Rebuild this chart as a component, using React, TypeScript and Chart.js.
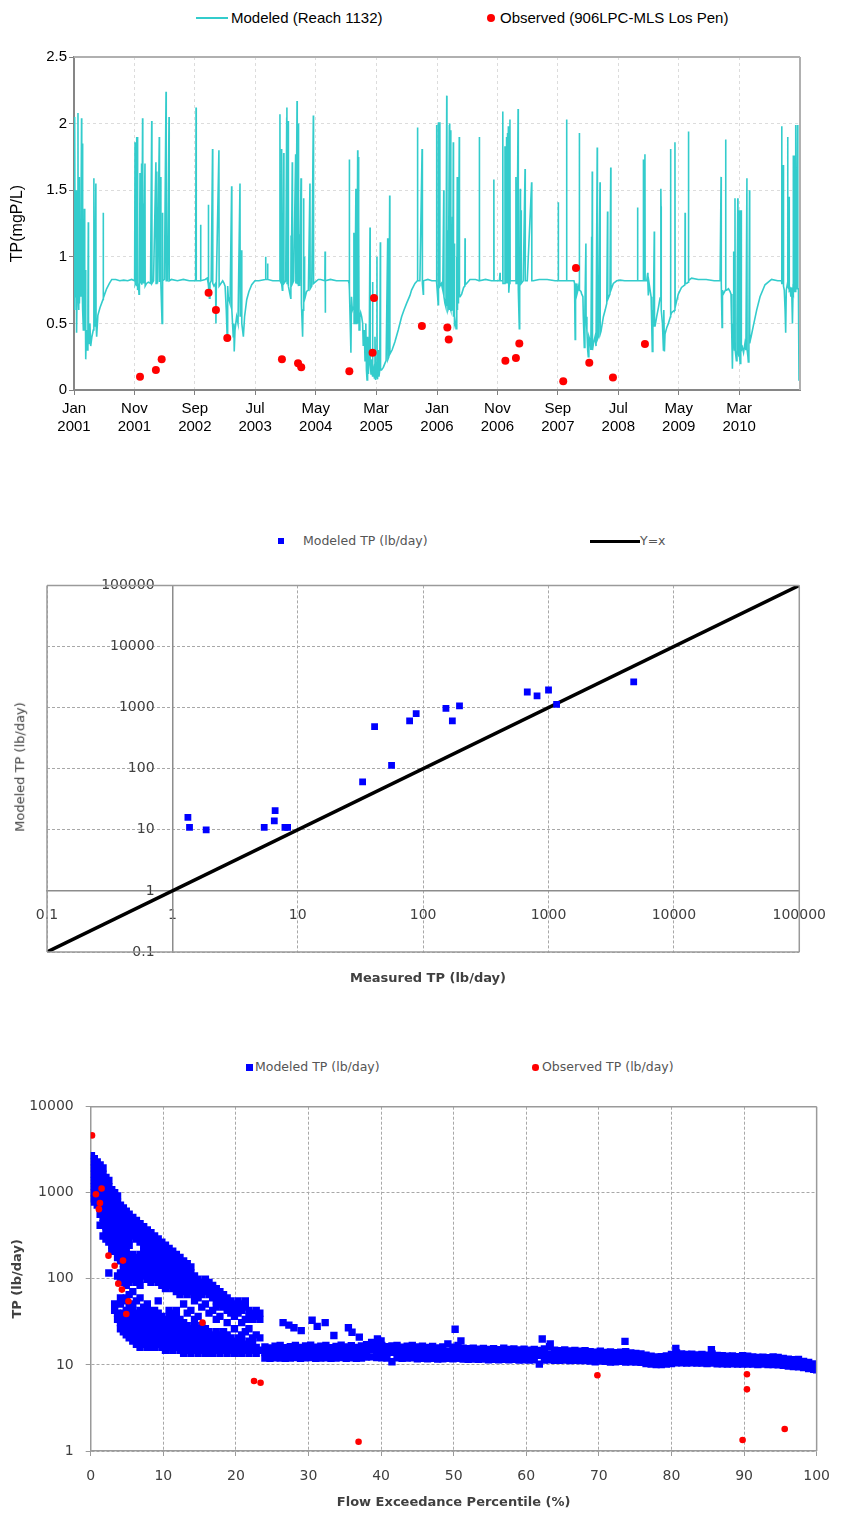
import React, { useEffect, useRef } from 'react';
import { Chart, registerables } from 'chart.js';

Chart.register(...registerables);

const FONT_ARIAL = "'Liberation Sans', Arial, sans-serif";
const FONT_VERDANA = "'DejaVu Sans', Verdana, sans-serif";

// ---------------- Chart 1: TP concentration time series ----------------
const tickDays = [0, 304, 608, 911, 1216, 1520, 1826, 2130, 2434, 2738, 3042, 3346];
const tickMonths = ['Jan', 'Nov', 'Sep', 'Jul', 'May', 'Mar', 'Jan', 'Nov', 'Sep', 'Jul', 'May', 'Mar'];
const tickYears = ['2001', '2001', '2002', '2003', '2004', '2005', '2006', '2006', '2007', '2008', '2009', '2010'];
const concTicks = [0, 0.5, 1, 1.5, 2, 2.5];
const concTickLabels = ['0', '0.5', '1', '1.5', '2', '2.5'];

// [day since 2001-01-01, TP mg/L]
const modeledSeries: number[][] = [
  [0,0.78],[2,1.2],[3,0.6],[5,2.05],[6,0.7],[9,0.9],[11,1.5],[13,0.43],[16,0.8],[20,2.08],[21,0.75],[24,0.6],[26,1.6],[27,0.65],[31,0.9],[33,0.7],[38,2.04],[39,0.7],[41,0.8],[43,1.85],[44,0.6],[47,0.45],[50,0.9],[52,1.36],[54,0.5],[56,0.9],[59,0.23],[62,0.45],[66,0.3],[70,0.6],[72,1.26],[73,0.4],[77,0.35],[80,0.5],[84,0.33],[90,0.4],[97,0.45],[100,1.59],[101,0.48],[104,0.5],[110,1.55],[111,0.5],[114,0.4],[120,0.56],[131,0.62],[146,0.68],[147,1.33],[148,0.69],[164,0.76],[178,0.8],[190,0.83],[210,0.83],[230,0.82],[250,0.825],[270,0.82],[290,0.83],[305,0.82],
  [307,1.86],[308,0.8],[312,0.82],[315,1.9],[316,0.78],[319,1.9],[320,0.75],[324,0.8],[327,0.72],[329,0.82],[332,1.63],[333,0.8],[336,0.82],[340,1.7],[341,0.79],[345,2.04],[346,0.8],[349,1.4],[350,0.8],[357,1.7],[358,0.78],[365,0.8],[374,0.81],[385,0.8],[391,2.02],[392,0.8],[400,0.82],[412,1.71],[413,0.8],[416,1.64],[417,0.8],[419,1.0],[420,0.8],[429,1.9],[430,0.81],[436,1.6],[437,0.8],[443,0.5],[444,0.82],[446,1.33],[447,0.82],[455,0.83],[463,2.24],[464,0.82],[470,0.82],[478,2.05],[479,0.82],[490,0.83],[520,0.82],[550,0.83],[580,0.82],[605,0.82],
  [612,0.82],[614,2.12],[615,0.82],[636,0.82],[637,1.24],[638,0.82],[660,0.83],[670,0.84],[675,0.8],[676,1.39],[677,0.78],[681,0.69],[684,0.8],[690,0.82],[697,1.81],[698,0.8],[704,0.78],[712,0.8],[714,0.5],[716,0.8],[729,1.8],[730,0.78],[734,0.78],[748,0.82],[755,0.8],[760,0.78],[766,0.6],[771,0.37],[773,0.78],[776,0.7],[785,0.65],[793,1.53],[794,0.6],[801,0.4],[804,0.5],[806,0.29],[810,0.45],[818,0.55],[825,0.5],[835,1.55],[836,0.55],[843,1.05],[844,0.5],[852,0.4],[858,0.55],[869,0.68],[880,0.74],[894,0.79],[910,0.82],[930,0.82],[962,0.83],[964,1.0],[965,0.83],[973,0.83],[974,0.95],[975,0.83],[1000,0.82],[1030,0.82],
  [1035,0.82],[1036,2.07],[1037,0.82],[1043,0.8],[1044,1.81],[1045,0.8],[1048,0.75],[1050,0.8],[1055,1.78],[1056,0.8],[1065,0.82],[1070,2.04],[1071,2.12],[1072,0.8],[1077,0.8],[1078,2.02],[1079,0.78],[1090,0.69],[1091,0.8],[1092,1.16],[1093,0.8],[1098,1.71],[1099,0.8],[1105,0.82],[1115,1.77],[1116,0.8],[1122,2.17],[1123,0.8],[1128,0.8],[1129,2.0],[1130,0.78],[1134,1.17],[1135,0.78],[1142,1.59],[1143,0.75],[1145,0.65],[1150,0.4],[1152,0.6],[1155,1.44],[1156,0.65],[1159,1.0],[1160,0.68],[1162,0.69],[1170,0.74],[1179,0.75],[1187,1.55],[1188,0.76],[1196,0.78],[1204,2.06],[1205,0.8],[1213,0.81],[1229,0.83],[1240,0.83],[1262,0.82],[1263,1.04],[1264,0.58],[1265,0.82],[1290,0.83],[1320,0.82],[1350,0.82],[1380,0.82],
  [1384,0.8],[1385,1.73],[1386,0.75],[1393,0.28],[1396,0.7],[1400,0.6],[1404,0.62],[1408,1.18],[1409,0.5],[1413,0.55],[1418,1.51],[1419,0.5],[1423,0.55],[1427,1.8],[1428,0.5],[1430,1.75],[1431,0.5],[1433,1.27],[1434,0.45],[1438,0.55],[1442,0.58],[1447,0.55],[1452,0.5],[1455,0.33],[1460,0.45],[1464,0.22],[1468,0.5],[1471,0.15],[1474,0.075],[1477,0.4],[1481,0.12],[1485,0.3],[1489,1.22],[1490,0.2],[1494,0.12],[1497,0.23],[1500,0.12],[1502,0.81],[1503,0.1],[1508,0.15],[1511,0.09],[1514,0.4],[1517,0.075],[1521,0.2],[1524,1.0],[1525,0.1],[1527,0.08],[1531,0.3],[1534,0.1],[1538,0.15],[1541,1.11],[1542,0.15],[1547,0.15],[1556,0.17],[1564,0.2],[1570,0.22],[1578,1.14],[1579,0.23],[1584,0.25],[1588,1.46],[1589,0.27],[1600,0.3],[1614,0.36],[1631,0.45],[1648,0.55],[1660,0.6],[1673,0.65],[1690,0.71],[1698,0.75],[1715,0.8],[1727,0.82],[1728,1.97],[1729,0.82],[1740,0.82],[1751,1.81],[1752,1.79],[1753,0.8],[1757,0.72],[1758,0.82],[1780,0.83],[1800,0.82],[1815,0.82],
  [1823,0.82],[1824,1.99],[1825,0.8],[1832,0.64],[1833,2.01],[1834,0.8],[1838,0.8],[1840,2.01],[1841,0.78],[1848,0.8],[1855,0.75],[1860,1.5],[1861,0.7],[1866,0.65],[1871,0.62],[1875,2.21],[1876,0.63],[1880,1.2],[1881,0.6],[1883,0.61],[1888,1.99],[1889,0.6],[1891,2.0],[1892,0.62],[1895,1.95],[1896,0.6],[1900,0.6],[1904,1.3],[1905,0.6],[1908,1.86],[1909,0.55],[1913,1.1],[1914,0.5],[1917,0.52],[1922,0.46],[1925,1.0],[1926,0.55],[1928,1.6],[1929,0.6],[1933,1.4],[1934,0.65],[1938,1.9],[1939,0.7],[1942,0.7],[1950,0.72],[1960,0.77],[1966,0.78],[1967,1.14],[1968,0.79],[1975,0.8],[1992,0.83],[2020,0.83],[2038,0.82],[2039,1.9],[2040,0.82],[2070,0.83],[2100,0.82],[2111,0.82],[2112,1.58],[2113,0.82],[2140,0.82],[2143,0.88],[2144,0.82],[2150,0.82],
  [2155,0.82],[2157,2.09],[2158,0.8],[2166,0.8],[2168,1.83],[2169,0.8],[2172,0.8],[2174,1.7],[2175,0.8],[2176,1.9],[2177,0.8],[2181,1.93],[2182,0.8],[2185,1.98],[2186,0.75],[2188,0.73],[2190,0.8],[2193,2.03],[2194,0.82],[2202,0.82],[2220,0.82],[2223,1.6],[2224,0.8],[2227,1.5],[2228,0.8],[2234,2.11],[2235,0.75],[2240,0.46],[2242,0.8],[2245,1.51],[2246,0.8],[2249,1.35],[2250,0.8],[2260,0.82],[2269,1.66],[2270,0.82],[2280,0.82],[2302,1.56],[2303,0.82],[2310,0.82],[2340,0.83],[2380,0.83],[2420,0.82],[2435,0.82],[2436,1.41],[2437,0.82],[2460,0.82],[2477,0.82],[2478,2.03],[2479,0.82],[2500,0.82],[2515,0.82],
  [2518,0.8],[2520,0.5],[2521,0.38],[2523,0.75],[2527,0.8],[2530,0.72],[2535,0.75],[2541,0.8],[2542,1.93],[2543,0.75],[2550,0.74],[2554,0.72],[2560,0.7],[2562,0.55],[2567,0.32],[2570,0.6],[2575,1.1],[2576,0.55],[2580,0.45],[2584,0.3],[2587,0.25],[2590,0.4],[2596,0.37],[2600,0.3],[2604,1.15],[2605,0.3],[2607,1.64],[2608,0.3],[2613,0.35],[2621,0.4],[2626,0.33],[2632,1.82],[2633,0.38],[2638,0.4],[2646,1.56],[2647,0.42],[2651,0.44],[2663,0.55],[2672,0.6],[2680,0.65],[2684,1.34],[2685,0.68],[2696,0.72],[2700,1.67],[2701,0.75],[2713,0.8],[2730,0.82],[2747,0.825],[2770,0.82],[2800,0.82],[2820,0.82],
  [2834,0.82],[2835,1.37],[2836,0.82],[2863,0.82],[2864,1.73],[2865,0.82],[2871,0.82],[2872,1.77],[2873,0.82],[2881,0.82],[2886,0.88],[2887,0.8],[2889,0.71],[2893,0.8],[2897,0.8],[2903,0.7],[2906,0.5],[2909,0.29],[2912,0.6],[2914,0.5],[2919,1.19],[2920,0.48],[2923,0.48],[2931,0.55],[2940,0.62],[2948,0.69],[2952,1.51],[2953,1.38],[2954,0.6],[2960,0.5],[2965,0.3],[2967,0.6],[2970,0.29],[2973,0.42],[2982,0.47],[2990,0.5],[3000,0.55],[3001,1.81],[3002,0.56],[3006,0.58],[3022,0.6],[3023,1.86],[3024,0.62],[3030,0.66],[3040,0.72],[3056,0.77],[3073,0.79],[3074,1.33],[3075,0.8],[3082,0.8],[3090,0.81],[3091,1.94],[3092,0.82],[3098,0.83],[3107,0.84],[3140,0.83],[3180,0.83],[3220,0.82],[3250,0.82],
  [3254,0.82],[3255,1.6],[3256,0.8],[3260,0.47],[3262,0.75],[3266,0.72],[3277,0.75],[3278,1.88],[3279,0.75],[3283,0.75],[3292,0.76],[3300,0.74],[3305,0.72],[3309,0.4],[3312,0.16],[3315,0.5],[3318,1.04],[3319,0.4],[3322,0.3],[3325,1.44],[3326,0.3],[3332,0.22],[3335,0.5],[3339,1.44],[3340,0.3],[3345,0.25],[3347,1.35],[3348,0.25],[3351,0.2],[3354,0.45],[3356,1.35],[3357,0.3],[3362,0.32],[3368,0.28],[3375,0.35],[3380,0.3],[3385,1.59],[3386,0.3],[3390,0.25],[3392,0.21],[3395,0.35],[3398,1.5],[3399,0.35],[3403,0.38],[3406,0.4],[3417,0.48],[3434,0.6],[3451,0.7],[3476,0.79],[3509,0.83],[3540,0.82],[3555,0.82],
  [3559,0.82],[3560,1.98],[3561,0.8],[3566,0.8],[3568,1.69],[3569,0.78],[3573,0.75],[3577,0.6],[3580,0.43],[3583,0.75],[3589,0.8],[3590,1.9],[3591,0.78],[3596,0.76],[3597,1.45],[3598,0.75],[3602,0.76],[3606,0.7],[3610,0.77],[3614,0.5],[3617,0.75],[3618,1.76],[3619,0.74],[3622,1.76],[3623,0.74],[3626,0.74],[3629,0.74],[3630,1.99],[3631,0.76],[3635,0.76],[3640,1.99],[3641,0.76],[3644,0.76],[3647,0.076],[3649,0.3],[3652,0.1],
];

const observedDays = [332, 412, 441, 677, 714, 771, 1046, 1127, 1143, 1385, 1502, 1509, 1750, 1878, 1885, 2170, 2223, 2240, 2461, 2525, 2592, 2711, 2872];
const observedConc = [0.10, 0.15, 0.23, 0.73, 0.60, 0.39, 0.23, 0.20, 0.17, 0.14, 0.28, 0.69, 0.48, 0.47, 0.38, 0.22, 0.24, 0.35, 0.065, 0.915, 0.205, 0.093, 0.345];

// ---------------- Chart 2: modeled vs measured load ----------------
const logDecades = [0.1, 1, 10, 100, 1000, 10000, 100000];
const logDecadeLabels = ['0.1', '1', '10', '100', '1000', '10000', '100000'];
const measuredLoad = [1.33, 1.37, 1.86, 5.4, 6.5, 6.6, 7.9, 8.3, 32.9, 41, 56, 78, 88, 152, 171, 195, 677, 810, 1000, 1160, 4780];
const modeledLoad = [16, 11, 10, 11, 14, 20.6, 11, 11, 61, 490, 113, 605, 800, 975, 605, 1070, 1800, 1550, 1940, 1130, 2630];
const identityEnds = [0.1, 100000];

// ---------------- Chart 3: load duration ----------------
const durationDecades = [1, 10, 100, 1000, 10000];
const durationDecadeLabels = ['1', '10', '100', '1000', '10000'];
// [exceedance %, TP lb/day values...]
const modeledDenseColumns: number[][] = [
  [0.1, 2700, 2290, 1940, 1640, 1390, 1180, 1000, 850],
  [0.5, 2490, 2110, 1790, 1510, 1280, 1090, 920, 780],
  [0.9, 2290, 1940, 1640, 1390, 1180, 1000, 850, 720],
  [1.3, 2110, 1790, 1510, 1280, 1090, 920, 780, 665, 563, 420],
  [1.7, 1940, 1640, 1390, 1180, 1000, 850, 720, 610, 517, 438, 315],
  [2.1, 1510, 1280, 1090, 920, 780, 665, 563, 477, 404, 343, 290],
  [2.5, 1390, 1180, 1000, 850, 720, 610, 517, 438, 371, 315, 267, 117],
  [2.9, 1090, 920, 780, 665, 563, 477, 404, 343, 290, 246, 209],
  [3.3, 1000, 850, 720, 610, 517, 438, 371, 315, 267, 226, 51, 43],
  [3.7, 920, 780, 665, 563, 477, 404, 343, 290, 246, 209, 177, 108, 40, 33.8],
  [4.1, 720, 610, 517, 438, 371, 315, 267, 226, 192, 162, 117, 99, 60, 51, 36.7, 31, 26.3],
  [4.5, 665, 563, 477, 404, 343, 290, 246, 209, 177, 150, 127, 108, 91, 55.5, 40, 33.8, 28.6, 24.3],
  [4.9, 610, 517, 438, 371, 315, 267, 226, 192, 162, 138, 117, 99, 84, 60, 43, 36.7, 31, 26.3, 22.3],
  [5.3, 563, 477, 404, 343, 290, 246, 177, 150, 127, 108, 91, 65.5, 47, 40, 33.8, 28.6, 24.3, 20.6],
  [5.8, 517, 438, 371, 315, 192, 162, 138, 117, 99, 71, 51, 43, 36.7, 31, 26.3, 22.3, 18.9],
  [6.3, 477, 404, 343, 290, 177, 150, 127, 108, 91, 55.5, 40, 33.8, 28.6, 24.3, 20.6, 17.4],
  [6.8, 438, 371, 315, 267, 192, 162, 138, 117, 99, 84, 60, 43, 36.7, 31, 26.3, 22.3, 18.9, 16],
  [7.3, 404, 343, 290, 246, 209, 177, 150, 127, 108, 47, 40, 33.8, 28.6, 24.3, 20.6, 17.4],
  [7.8, 371, 315, 267, 226, 192, 162, 138, 117, 99, 51, 43, 36.7, 31, 26.3, 22.3, 18.9, 16],
  [8.3, 343, 290, 246, 209, 177, 150, 127, 108, 91, 40, 33.8, 28.6, 24.3, 20.6, 17.4],
  [8.8, 315, 267, 226, 192, 162, 138, 117, 99, 43, 36.7, 31, 26.3, 22.3, 18.9, 16],
  [9.3, 290, 246, 209, 177, 150, 127, 108, 91, 55.5, 40, 33.8, 28.6, 24.3, 20.6, 17.4],
  [9.8, 267, 226, 192, 162, 138, 117, 99, 84, 36.7, 31, 26.3, 22.3, 18.9, 16],
  [10.3, 246, 209, 177, 150, 127, 108, 91, 77, 33.8, 28.6, 24.3, 20.6, 17.4, 14.8],
  [10.8, 226, 192, 162, 138, 117, 99, 84, 43, 36.7, 31, 26.3, 22.3, 18.9, 16],
  [11.3, 209, 177, 150, 127, 108, 91, 77, 40, 33.8, 28.6, 24.3, 20.6, 17.4, 14.8],
  [11.8, 192, 162, 138, 117, 99, 84, 71, 43, 36.7, 31, 26.3, 22.3, 18.9, 16],
  [12.3, 177, 150, 127, 108, 91, 77, 65.5, 33.8, 28.6, 24.3, 20.6, 17.4, 14.8],
  [12.8, 162, 138, 117, 99, 84, 71, 51, 31, 26.3, 22.3, 18.9, 16, 13.6],
  [13.3, 150, 127, 108, 91, 77, 65.5, 40, 28.6, 24.3, 20.6, 17.4, 14.8],
  [13.8, 138, 117, 99, 84, 71, 43, 26.3, 22.3, 18.9, 16, 13.6],
  [14.3, 108, 91, 77, 65.5, 55.5, 33.8, 28.6, 24.3, 20.6, 17.4, 14.8],
  [14.8, 99, 84, 71, 60, 36.7, 26.3, 22.3, 18.9, 16, 13.6],
  [15.3, 91, 77, 65.5, 47, 28.6, 24.3, 20.6, 17.4, 14.8],
  [15.8, 99, 84, 71, 51, 26.3, 22.3, 18.9, 16, 13.6],
  [16.3, 91, 77, 65.5, 40, 24.3, 20.6, 17.4, 14.8],
  [16.8, 84, 71, 60, 43, 22.3, 18.9, 16, 13.6],
  [17.3, 77, 65.5, 55.5, 47, 33.8, 24.3, 20.6, 17.4, 14.8],
  [17.8, 71, 60, 51, 36.7, 22.3, 18.9, 16, 13.6],
  [18.3, 65.5, 55.5, 47, 24.3, 20.6, 17.4, 14.8],
  [18.8, 60, 51, 43, 31, 22.3, 18.9, 16, 13.6],
  [19.3, 55.5, 47, 40, 20.6, 17.4, 14.8],
  [19.8, 51, 43, 36.7, 26.3, 18.9, 16, 13.6],
  [20.3, 55.5, 47, 40, 20.6, 17.4, 14.8],
  [20.8, 51, 43, 31, 22.3, 18.9, 16, 13.6],
  [21.3, 55.5, 47, 33.8, 24.3, 17.4, 14.8],
  [21.8, 43, 36.7, 26.3, 18.9, 16, 13.6],
  [22.3, 40, 33.8, 20.6, 17.4, 14.8],
  [22.8, 43, 36.7, 22.3, 16, 13.6],
  [23.3, 40, 33.8, 20.6, 14.8],
];
const modeledRibbonColumns: number[][] = [
  [24.0,16.2,13.9,12.0],[24.7,15.8,13.7,11.9],[25.4,16.5,14.0,12.1],[26.1,16.8,14.2,12.0],[26.8,15.9,13.8,11.9],[27.5,16.3,14.0,12.0],[28.2,16.9,14.3,12.2],[28.9,16.0,13.8,11.9],[29.6,16.6,14.1,12.1],[30.3,17.0,14.4,12.2],[31.0,16.1,13.8,11.9],[31.7,16.5,14.0,12.0],[32.4,16.8,14.2,12.1],[33.1,15.9,13.7,11.9],[33.8,16.4,14.0,12.0],[34.5,17.0,14.3,12.2],[35.2,16.2,13.9,11.9],[35.9,16.7,14.1,12.1],[36.6,16.0,13.8,11.9],[37.3,16.6,14.1,12.0],[38.0,17.2,14.5,12.3],[38.7,18.2,15.0,12.4],[39.4,17.5,14.6,12.2],[40.1,16.9,14.3,12.1],[40.8,16.3,13.9,12.0],[41.5,16.6,14.0,10.9],[42.2,16.8,14.2,12.1],[42.9,16.1,13.8,11.9],[43.6,16.5,14.0,12.0],[44.3,16.9,14.3,12.1],
  [45.0,16.2,13.9,11.8],[45.7,16.5,14.0,11.9],[46.4,16.0,13.8,11.8],[47.1,16.4,14.0,11.9],[47.8,15.8,13.6,11.7],[48.5,16.2,13.8,11.8],[49.2,17.5,14.3,11.9],[49.9,16.1,13.7,11.8],[50.6,16.8,14.0,11.9],[51.3,15.6,13.5,11.7],[52.0,15.4,13.4,11.6],[52.7,15.7,13.5,11.7],[53.4,15.2,13.3,11.6],[54.1,15.5,13.4,11.7],[54.8,15.1,13.2,11.5],[55.5,15.4,13.4,11.6],[56.2,15.0,13.1,11.5],[56.9,15.6,13.4,11.6],[57.6,15.1,13.2,11.5],[58.3,15.3,13.3,11.6],[59.0,14.9,13.1,11.4],[59.7,15.2,13.2,11.5],
  [60.4,14.8,13.0,11.4],[61.1,15.1,13.1,11.5],[61.8,14.7,12.9,10.2],[62.5,15.3,13.1,11.4],[63.2,16.3,13.4,11.5],[63.9,14.8,12.9,11.3],[64.6,14.6,12.8,11.3],[65.3,14.9,13.0,11.4],[66.0,14.5,12.8,11.2],[66.7,14.7,12.9,11.3],[67.4,14.4,12.7,11.2],[68.1,14.6,12.8,11.2],[68.8,14.3,12.6,11.1],[69.5,14.1,12.5,10.9],[70.2,14.4,12.6,11.1],[70.9,14.0,12.4,11.0],[71.6,14.2,12.5,10.8],[72.3,13.9,12.3,10.9],[73.0,14.1,12.4,11.0],[73.7,14.3,12.5,10.8],[74.4,13.8,12.3,10.9],[75.1,13.6,12.1,10.8],[75.8,13.4,12.0,10.7],[76.5,13.0,11.7,10.4],[77.2,12.6,11.4,10.2],[77.9,12.4,11.2,10.1],[78.6,12.5,11.3,10.1],[79.3,12.7,11.4,10.2],
  [80.0,13.2,11.8,10.4],[80.7,13.8,12.0,10.6],[81.4,13.4,11.9,10.6],[82.1,13.2,11.8,10.5],[82.8,13.3,11.8,10.6],[83.5,13.1,11.7,10.5],[84.2,13.2,11.8,10.5],[84.9,13.0,11.7,10.4],[85.6,13.4,11.8,10.5],[86.3,12.9,11.6,10.3],[87.0,12.8,11.5,10.3],[87.7,12.6,11.4,10.2],[88.4,12.7,11.4,10.3],[89.1,12.5,11.3,10.2],[89.8,12.8,11.4,10.2],[90.5,12.6,11.3,10.2],[91.2,12.4,11.2,10.2],[91.9,12.2,11.1,10.1],[92.6,12.3,11.2,10.2],[93.3,12.1,11.1,10.1],[94.0,12.4,11.2,10.1],[94.7,12.2,11.1,10.0],[95.4,11.9,10.9,9.9],[96.1,11.7,10.7,9.7],[96.8,11.5,10.6,9.6],[97.5,11.6,10.5,9.5],[98.2,11.0,10.2,9.3],[98.9,10.7,9.9,9.1],[99.6,10.3,9.6,8.9],[100,9.9,9.3,8.8],
];
const modeledOutlierX = [26.5, 27.3, 28.0, 29.0, 30.5, 31.2, 32.3, 33.5, 35.5, 36.0, 37.0, 39.5, 40.0, 50.2, 51.0, 62.2, 63.3, 73.6, 80.6, 85.5];
const modeledOutlierY = [31, 29, 27, 25, 33, 28, 31, 22, 27, 24, 21, 20, 19, 26, 19, 20, 17.5, 18.8, 15.5, 15];
const observedExceedance = [0.18, 0.72, 1.5, 1.27, 1.13, 2.45, 3.3, 4.45, 3.8, 4.3, 5.2, 4.9, 15.4, 22.5, 23.4, 36.9, 69.8, 90.4, 90.4, 89.8, 95.6];
const observedLoad = [4640, 960, 1120, 760, 645, 186, 142, 163, 88, 75, 55, 39, 31, 6.5, 6.2, 1.28, 7.6, 7.8, 5.2, 1.34, 1.8];

// ---------------- helpers ----------------
function framePlugin(color: string, width: number, sides: string[]) {
  return {
    id: 'areaFrame',
    afterDatasetsDraw(chart: any) {
      const { ctx, chartArea: a } = chart;
      ctx.save();
      ctx.strokeStyle = color;
      ctx.lineWidth = width;
      ctx.beginPath();
      if (sides.includes('top')) { ctx.moveTo(a.left, a.top); ctx.lineTo(a.right, a.top); }
      if (sides.includes('right')) { ctx.moveTo(a.right, a.top); ctx.lineTo(a.right, a.bottom); }
      if (sides.includes('bottom')) { ctx.moveTo(a.left, a.bottom); ctx.lineTo(a.right, a.bottom); }
      if (sides.includes('left')) { ctx.moveTo(a.left, a.top); ctx.lineTo(a.left, a.bottom); }
      ctx.stroke();
      ctx.restore();
    },
  };
}

function ChartCanvas(props: { make: () => any; left: number; top: number; width: number; height: number }) {
  const ref = useRef<HTMLCanvasElement>(null);
  useEffect(() => {
    const chart = new Chart(ref.current as HTMLCanvasElement, props.make());
    return () => chart.destroy();
  }, []);
  return (
    <canvas
      ref={ref}
      width={props.width}
      height={props.height}
      style={{ position: 'absolute', left: props.left, top: props.top, width: props.width, height: props.height }}
    />
  );
}

function Label(props: { x: number; y: number; text: string; size: number; family: string; color?: string; bold?: boolean }) {
  return (
    <div
      style={{
        position: 'absolute', left: props.x, top: props.y - 10, height: 20, lineHeight: '20px',
        fontSize: props.size, fontFamily: props.family, color: props.color || '#000',
        fontWeight: props.bold ? 'bold' : 'normal', whiteSpace: 'nowrap',
      }}
    >
      {props.text}
    </div>
  );
}

function CenterLabel(props: { x: number; y: number; text: string; size: number; family: string; color?: string; bold?: boolean; rotate?: boolean }) {
  return (
    <div
      style={{
        position: 'absolute', left: props.x, top: props.y, whiteSpace: 'nowrap',
        transform: `translate(-50%, -50%)${props.rotate ? ' rotate(-90deg)' : ''}`,
        fontSize: props.size, fontFamily: props.family, color: props.color || '#000',
        fontWeight: props.bold ? 'bold' : 'normal', lineHeight: 1.2,
      }}
    >
      {props.text}
    </div>
  );
}

// ---------------- chart configs ----------------
function makeTimeSeries() {
  return {
    type: 'line',
    data: {
      datasets: [
        {
          label: 'Observed (906LPC-MLS Los Pen)',
          type: 'scatter',
          data: observedDays.map((d, i) => ({ x: d, y: observedConc[i] })),
          pointRadius: 4,
          pointBackgroundColor: '#FF0000',
          pointBorderWidth: 0,
          order: 0,
        },
        {
          label: 'Modeled (Reach 1132)',
          data: modeledSeries.map((p) => ({ x: p[0], y: p[1] })),
          borderColor: '#33CCCC',
          borderWidth: 1.6,
          pointRadius: 0,
          tension: 0,
          order: 1,
        },
      ],
    },
    options: {
      responsive: false,
      animation: false,
      events: [],
      layout: { padding: { top: 57, right: 42, bottom: 10, left: 0 } },
      plugins: { legend: { display: false }, tooltip: { enabled: false } },
      scales: {
        x: {
          type: 'linear',
          min: 0,
          max: 3652,
          afterBuildTicks: (s: any) => { s.ticks = tickDays.map((v) => ({ value: v })); },
          afterFit: (s: any) => { s.height = 50; },
          ticks: {
            autoSkip: false,
            maxRotation: 0,
            padding: 4,
            color: '#000',
            font: { family: FONT_ARIAL, size: 15, lineHeight: 1.25 },
            callback: (_v: any, i: number) => [tickMonths[i], tickYears[i]],
          },
          grid: { color: '#DCDCDC', tickColor: '#808080', tickLength: 5, lineWidth: 1 },
          border: { color: '#868686', width: 2, dash: [3, 3] },
        },
        y: {
          min: 0,
          max: 2.5,
          afterFit: (s: any) => { s.width = 74; },
          afterBuildTicks: (s: any) => { s.ticks = concTicks.map((v) => ({ value: v })); },
          ticks: {
            padding: 2, color: '#000', font: { family: FONT_ARIAL, size: 15 },
            callback: (_v: any, i: number) => concTickLabels[i],
          },
          grid: { color: '#DCDCDC', tickColor: '#808080', tickLength: 5, lineWidth: 1 },
          border: { color: '#868686', width: 2, dash: [3, 3] },
          title: { display: true, text: 'TP(mgP/L)', color: '#000', font: { family: FONT_ARIAL, size: 16 }, padding: { top: 8, bottom: 0 } },
        },
      },
    },
    plugins: [framePlugin('#B0B0B0', 2, ['top', 'right'])],
  };
}

function makeScatter() {
  return {
    type: 'scatter',
    data: {
      datasets: [
        {
          label: 'Modeled TP (lb/day)',
          data: measuredLoad.map((x, i) => ({ x, y: modeledLoad[i] })),
          pointStyle: 'rect',
          pointRadius: 4.8,
          backgroundColor: '#0000FF',
          borderWidth: 0,
          order: 0,
        },
        {
          label: 'Y=x',
          type: 'line',
          data: identityEnds.map((v) => ({ x: v, y: v })),
          borderColor: '#000',
          borderWidth: 3.5,
          pointRadius: 0,
          order: 1,
        },
      ],
    },
    options: {
      responsive: false,
      animation: false,
      events: [],
      layout: { padding: { top: 22, right: 32, bottom: 48, left: 47 } },
      plugins: { legend: { display: false }, tooltip: { enabled: false } },
      scales: {
        x: {
          type: 'logarithmic',
          min: 0.1,
          max: 100000,
          position: { y: 1 },
          afterBuildTicks: (s: any) => { s.ticks = logDecades.map((v) => ({ value: v })); },
          ticks: {
            autoSkip: false, maxRotation: 0, padding: 16, color: '#404040',
            font: { family: FONT_VERDANA, size: 14 },
            callback: (_v: any, i: number) => logDecadeLabels[i],
          },
          grid: { color: '#A8A8A8', drawTicks: false, lineWidth: 1 },
          border: { color: '#8C8C8C', width: 1.5, dash: [3, 2] },
        },
        y: {
          type: 'logarithmic',
          min: 0.1,
          max: 100000,
          position: { x: 1 },
          afterBuildTicks: (s: any) => { s.ticks = logDecades.map((v) => ({ value: v })); },
          ticks: {
            autoSkip: false, padding: 17, color: '#404040',
            font: { family: FONT_VERDANA, size: 14 },
            // trailing spaces keep the right-aligned labels clear of the crossing axis
            callback: (_v: any, i: number) => logDecadeLabels[i] + '    ',
          },
          grid: { color: '#A8A8A8', drawTicks: false, lineWidth: 1 },
          border: { color: '#8C8C8C', width: 1.5, dash: [3, 2] },
        },
      },
    },
    plugins: [framePlugin('#9A9A9A', 1.5, ['top', 'right', 'bottom', 'left'])],
  };
}

function makeDuration() {
  const modeledPoints: { x: number; y: number }[] = [];
  modeledDenseColumns.concat(modeledRibbonColumns).forEach((col) => {
    for (let k = 1; k < col.length; k++) modeledPoints.push({ x: col[0], y: col[k] });
  });
  modeledOutlierX.forEach((x, i) => modeledPoints.push({ x, y: modeledOutlierY[i] }));
  return {
    type: 'scatter',
    data: {
      datasets: [
        {
          label: 'Observed TP (lb/day)',
          data: observedExceedance.map((x, i) => ({ x, y: observedLoad[i] })),
          pointRadius: 3.3,
          backgroundColor: '#FF0000',
          borderWidth: 0,
          order: 0,
        },
        {
          label: 'Modeled TP (lb/day)',
          data: modeledPoints,
          pointStyle: 'rect',
          pointRadius: 5.2,
          backgroundColor: '#0000FF',
          borderWidth: 0,
          order: 1,
        },
      ],
    },
    options: {
      responsive: false,
      animation: false,
      events: [],
      layout: { padding: { top: 21.7, right: 17.5, bottom: 4, left: 0 } },
      plugins: { legend: { display: false }, tooltip: { enabled: false } },
      scales: {
        x: {
          type: 'linear',
          min: 0,
          max: 100,
          afterFit: (s: any) => { s.height = 62; },
          ticks: { stepSize: 10, autoSkip: false, maxRotation: 0, padding: 12, color: '#404040', font: { family: FONT_VERDANA, size: 14 } },
          grid: { color: '#A8A8A8', tickColor: '#9A9A9A', tickLength: 5, lineWidth: 1 },
          border: { color: '#9A9A9A', width: 1.5, dash: [3, 2] },
          title: { display: true, text: 'Flow Exceedance Percentile (%)', color: '#404040', font: { family: FONT_VERDANA, size: 13, weight: 'bold' }, padding: { top: 0, bottom: 3 } },
        },
        y: {
          type: 'logarithmic',
          min: 1,
          max: 10000,
          afterFit: (s: any) => { s.width = 90.7; },
          afterBuildTicks: (s: any) => { s.ticks = durationDecades.map((v) => ({ value: v })); },
          ticks: {
            autoSkip: false, padding: 12, color: '#404040', font: { family: FONT_VERDANA, size: 14 },
            callback: (_v: any, i: number) => durationDecadeLabels[i],
          },
          grid: { color: '#A8A8A8', tickColor: '#9A9A9A', tickLength: 5, lineWidth: 1 },
          border: { color: '#9A9A9A', width: 1.5, dash: [3, 2] },
          title: { display: true, text: 'TP (lb/day)', color: '#404040', font: { family: FONT_VERDANA, size: 13, weight: 'bold' }, padding: { top: 10, bottom: 0 } },
        },
      },
    },
    plugins: [framePlugin('#9A9A9A', 1.5, ['top', 'right'])],
  };
}

export default function App() {
  return (
    <div style={{ position: 'absolute', left: 0, top: 0, width: 842, height: 1517, background: '#fff' }}>
      {/* Chart 1 legend */}
      <div style={{ position: 'absolute', left: 196, top: 17, width: 32, height: 2, background: '#33CCCC' }} />
      <Label x={231} y={18} text="Modeled (Reach 1132)" size={15} family={FONT_ARIAL} />
      <div style={{ position: 'absolute', left: 487, top: 14, width: 8, height: 8, borderRadius: 4, background: '#FF0000' }} />
      <Label x={500} y={18} text="Observed (906LPC-MLS Los Pen)" size={15} family={FONT_ARIAL} />
      <ChartCanvas make={makeTimeSeries} left={0} top={0} width={842} height={450} />

      {/* Chart 2 legend and titles */}
      <div style={{ position: 'absolute', left: 278, top: 538, width: 6, height: 6, background: '#0000FF' }} />
      <Label x={303} y={541} text="Modeled TP (lb/day)" size={12.5} family={FONT_VERDANA} color="#555" />
      <div style={{ position: 'absolute', left: 590, top: 539.5, width: 50, height: 3, background: '#000' }} />
      <Label x={640} y={541} text="Y=x" size={12.5} family={FONT_VERDANA} color="#555" />
      <ChartCanvas make={makeScatter} left={0} top={560} width={842} height={440} />
      <CenterLabel x={20} y={767} text="Modeled TP (lb/day)" size={13} family={FONT_VERDANA} color="#404040" rotate />
      <CenterLabel x={428} y={978} text="Measured TP (lb/day)" size={13} family={FONT_VERDANA} color="#404040" bold />

      {/* Chart 3 legend */}
      <div style={{ position: 'absolute', left: 246, top: 1064, width: 7, height: 7, background: '#0000FF' }} />
      <Label x={255} y={1067} text="Modeled TP (lb/day)" size={12.5} family={FONT_VERDANA} color="#555" />
      <div style={{ position: 'absolute', left: 532, top: 1064, width: 6.5, height: 6.5, borderRadius: 3.25, background: '#FF0000' }} />
      <Label x={542} y={1067} text="Observed TP (lb/day)" size={12.5} family={FONT_VERDANA} color="#555" />
      <ChartCanvas make={makeDuration} left={0} top={1085} width={842} height={432} />
    </div>
  );
}
